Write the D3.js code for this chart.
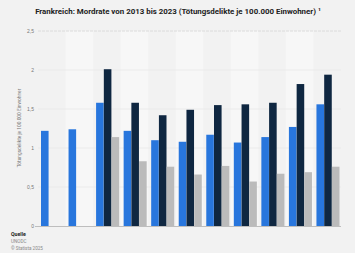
<!DOCTYPE html>
<html>
<head>
<meta charset="utf-8">
<script src="https://cdn.jsdelivr.net/npm/d3@7"></script>
<style>
  body { margin: 0; background: #f2f2f2; }
  svg { display: block; font-family: Roboto, "Liberation Sans", Arial, sans-serif; }
</style>
</head>
<body>
<div id="chart"></div>
<script>
// Werte
const years = ["2013", "2014", "2015", "2016", "2017", "2018", "2019", "2020", "2021", "2022", "2023"];
const seriesA = [1.22, 1.24, 1.58, 1.22, 1.10, 1.08, 1.17, 1.07, 1.14, 1.27, 1.56];
const seriesB = [null, null, 2.01, 1.58, 1.42, 1.49, 1.55, 1.56, 1.58, 1.82, 1.94];
const seriesC = [null, null, 1.14, 0.83, 0.76, 0.66, 0.77, 0.57, 0.67, 0.69, 0.76];
const yTicks = [0, 0.5, 1, 1.5, 2, 2.5];
const yTickLabels = ["0", "0,5", "1", "1,5", "2", "2,5"];

let width = 355;
let height = 253;
let margin = { top: 31, right: 14, bottom: 27, left: 38 };

let svg = d3.select("#chart")
  .append("svg")
  .attr("width", width)
  .attr("height", height);

svg.append("rect")
  .attr("width", width)
  .attr("height", height)
  .attr("fill", "#f2f2f2");

let x = d3.scaleBand()
  .domain(years)
  .range([margin.left, width - margin.right]);

let y = d3.scaleLinear()
  .domain([0, 2.5])
  .range([height - margin.bottom, margin.top]);

let series = [
  { key: "a", values: seriesA, color: "#2876dd" },
  { key: "b", values: seriesB, color: "#0f2741" },
  { key: "c", values: seriesC, color: "#bbbbbb" }
];

let x1 = d3.scaleBand()
  .domain(series.map(s => s.key))
  .range([3, x.bandwidth() - 1.5])
  .paddingInner(0.02);

// alternating column shading
svg.append("g")
  .selectAll("rect")
  .data(years.filter((d, i) => i % 2 === 1))
  .enter()
    .append("rect")
    .attr("x", d => x(d))
    .attr("y", margin.top)
    .attr("width", x.bandwidth())
    .attr("height", y(0) - margin.top)
    .attr("fill", "#f7f7f7");

// gridlines
svg.append("g")
  .selectAll("line")
  .data(yTicks.filter(d => d > 0))
  .enter()
    .append("line")
    .attr("x1", margin.left)
    .attr("x2", width - margin.right)
    .attr("y1", d => y(d))
    .attr("y2", d => y(d))
    .attr("stroke", d => d === 2.5 ? "#d6d6d6" : "#e8e8e8")
    .attr("stroke-dasharray", d => d === 2.5 ? "3,1" : null)
    .attr("stroke-width", 0.8);

// bars
let groups = svg.append("g")
  .selectAll("g")
  .data(years)
  .enter()
    .append("g")
    .attr("transform", d => "translate(" + x(d) + ",0)");

groups.selectAll("rect")
  .data((d, i) => series.map(s => ({ key: s.key, color: s.color, value: s.values[i] })))
  .enter()
    .filter(d => d.value != null)
    .append("rect")
    .attr("x", d => x1(d.key))
    .attr("width", x1.bandwidth())
    .attr("y", d => y(d.value))
    .attr("height", d => y(0) - y(d.value))
    .attr("fill", d => d.color);

// baseline
svg.append("line")
  .attr("x1", margin.left - 3)
  .attr("x2", width - margin.right)
  .attr("y1", y(0) + 0.5)
  .attr("y2", y(0) + 0.5)
  .attr("stroke", "#b0b0b0")
  .attr("stroke-width", 0.8);

// y axis labels
let yAxis = d3.axisLeft(y)
  .tickValues(yTicks)
  .tickFormat((d, i) => yTickLabels[i])
  .tickSize(0)
  .tickPadding(4);

svg.append("g")
  .attr("transform", "translate(" + margin.left + ",0)")
  .call(yAxis)
  .call(g => g.select(".domain").remove())
  .selectAll("text")
    .attr("font-size", 5)
    .attr("fill", "#777");

svg.append("text")
  .attr("transform", "translate(21," + 128 + ") rotate(-90)")
  .attr("text-anchor", "middle")
  .attr("font-size", 4.8)
  .attr("fill", "#777")
  .text("Tötungsdelikte je 100.000 Einwohner");

// title
svg.append("text")
  .attr("x", 178)
  .attr("y", 14)
  .attr("text-anchor", "middle")
  .attr("font-size", 7.9)
  .attr("font-weight", "bold")
  .attr("fill", "#222")
  .text("Frankreich: Mordrate von 2013 bis 2023 (Tötungsdelikte je 100.000 Einwohner) ¹");

// source
svg.append("text")
  .attr("x", 11)
  .attr("y", 236)
  .attr("font-size", 5.2)
  .attr("font-weight", "bold")
  .attr("fill", "#222")
  .text("Quelle");

svg.append("text")
  .attr("x", 11)
  .attr("y", 243)
  .attr("font-size", 4.6)
  .attr("fill", "#888")
  .text("UNODC");

svg.append("text")
  .attr("x", 11)
  .attr("y", 250)
  .attr("font-size", 4.6)
  .attr("fill", "#888")
  .text("© Statista 2025");
</script>
</body>
</html>
